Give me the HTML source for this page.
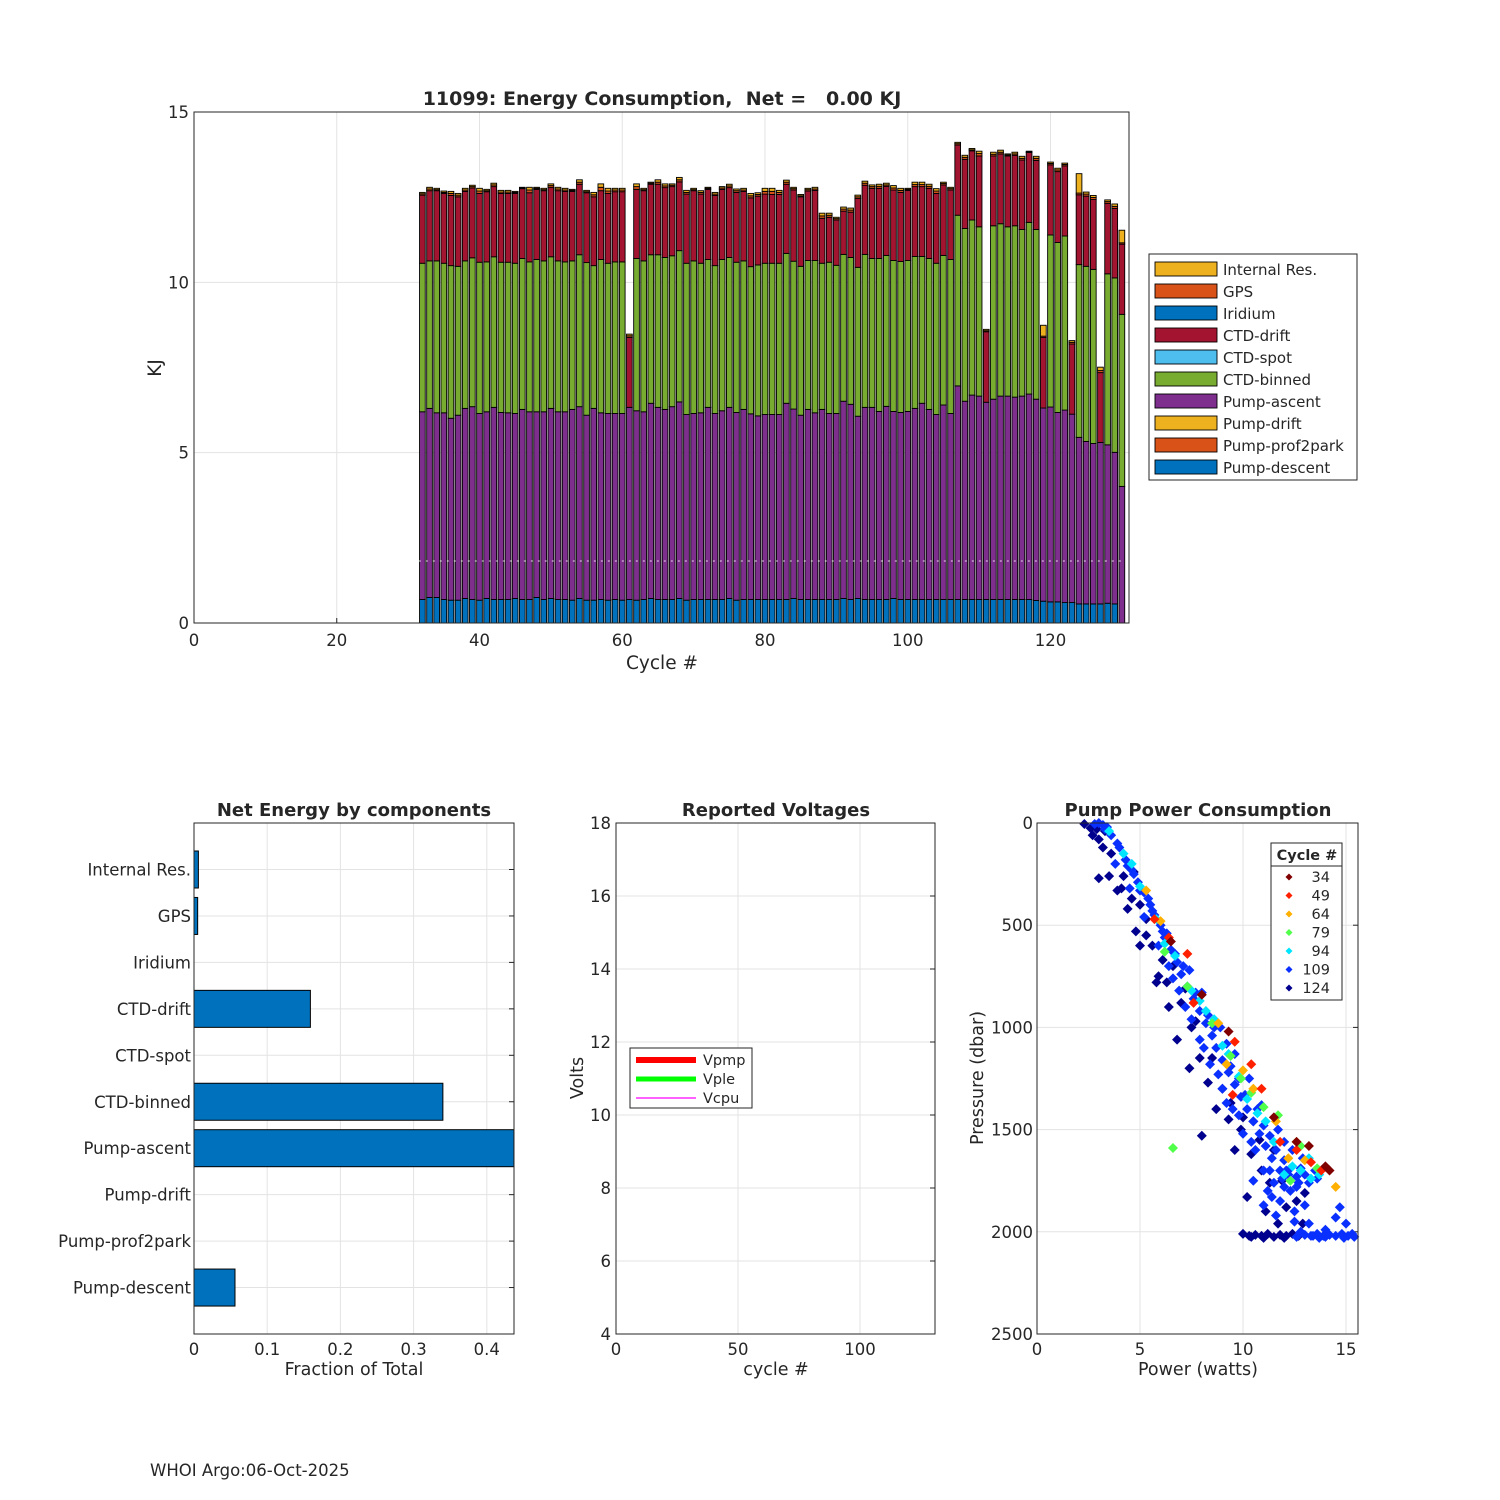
<!DOCTYPE html>
<html><head><meta charset="utf-8"><style>
html,body{margin:0;padding:0;background:#fff;}
svg{display:block;font-family:"DejaVu Sans","Liberation Sans",sans-serif;}
text{fill:#262626;}
</style></head><body>
<svg id="fig" width="1500" height="1500" viewBox="0 0 1500 1500" xmlns="http://www.w3.org/2000/svg">
<rect x="0" y="0" width="1500" height="1500" fill="#fff"/>
<g id="g1"></g>
<g id="g2"></g>
<g id="g3"></g>
<g id="g4"></g>
<text x="662" y="105" text-anchor="middle" font-size="19" font-weight="bold" fill="#000" style="white-space:pre" xml:space="preserve">11099: Energy Consumption,  Net =   0.00 KJ</text>
<text x="662" y="669" text-anchor="middle" font-size="18.5">Cycle #</text>
<text x="161" y="368" text-anchor="middle" font-size="18.5" transform="rotate(-90 161 368)">KJ</text>
<text x="354" y="816" text-anchor="middle" font-size="18" font-weight="bold" fill="#000">Net Energy by components</text>
<text x="354" y="1375" text-anchor="middle" font-size="17.5">Fraction of Total</text>
<text x="776" y="816" text-anchor="middle" font-size="18" font-weight="bold" fill="#000">Reported Voltages</text>
<text x="776" y="1375" text-anchor="middle" font-size="17.5">cycle #</text>
<text x="583" y="1078" text-anchor="middle" font-size="17.5" transform="rotate(-90 583 1078)">Volts</text>
<text x="1198" y="816" text-anchor="middle" font-size="18" font-weight="bold" fill="#000">Pump Power Consumption</text>
<text x="1198" y="1375" text-anchor="middle" font-size="17.5">Power (watts)</text>
<text x="983" y="1078" text-anchor="middle" font-size="17.5" transform="rotate(-90 983 1078)">Pressure (dbar)</text>
<text x="150" y="1476" font-size="16.5" fill="#000">WHOI Argo:06-Oct-2025</text>
</svg>
<script>
// ===== Main stacked bar data =====
const cycles = [];
for (let c = 32; c <= 130; c++) cycles.push(c);
const pumpDescent = [.69,.75,.75,.69,.67,.67,.72,.69,.67,.72,.69,.69,.69,.72,.69,.69,.75,.69,.72,.69,.69,.67,.72,.67,.67,.69,.67,.69,.67,.69,.67,.69,.72,.69,.69,.69,.72,.67,.69,.69,.69,.69,.69,.72,.67,.69,.69,.69,.69,.69,.69,.69,.72,.69,.69,.69,.69,.69,.69,.72,.69,.72,.69,.69,.69,.69,.72,.69,.69,.69,.69,.69,.69,.69,.69,.69,.69,.69,.69,.69,.69,.69,.69,.69,.69,.69,.66,.64,.62,.62,.60,.60,.56,.56,.56,.56,.58,.56];
const pumpAscent = [5.51,5.55,5.42,5.48,5.34,5.43,5.58,5.66,5.48,5.48,5.64,5.49,5.48,5.43,5.58,5.51,5.45,5.51,5.58,5.51,5.51,5.60,5.63,5.43,5.63,5.48,5.48,5.46,5.48,5.64,5.56,5.51,5.73,5.64,5.58,5.66,5.77,5.45,5.46,5.48,5.64,5.46,5.54,5.61,5.51,5.58,5.45,5.39,5.43,5.43,5.43,5.76,5.56,5.41,5.58,5.48,5.58,5.46,5.46,5.79,5.73,5.35,5.64,5.64,5.52,5.67,5.49,5.49,5.52,5.61,5.76,5.58,5.43,5.71,5.46,6.27,5.82,6.00,5.97,5.79,5.88,5.97,5.97,5.94,5.97,6.03,5.91,5.67,5.72,5.56,5.65,5.53,4.89,4.77,4.71,4.74,4.65,4.45,4.01];
const ctdBinned = [4.36,4.33,4.46,4.39,4.48,4.37,4.33,4.37,4.44,4.40,4.42,4.41,4.42,4.41,4.43,4.40,4.47,4.43,4.45,4.43,4.40,4.36,4.46,4.48,4.19,4.50,4.41,4.45,4.45,0,4.47,4.43,4.36,4.48,4.46,4.43,4.44,4.44,4.48,4.39,4.34,4.34,4.44,4.40,4.41,4.36,4.32,4.43,4.44,4.44,4.44,4.40,4.34,4.37,4.37,4.47,4.29,4.44,4.35,4.31,4.31,4.37,4.49,4.37,4.49,4.43,4.43,4.43,4.43,4.46,4.31,4.43,4.44,4.39,4.52,5.01,5.07,5.14,4.97,0,5.09,5.06,4.97,5.03,4.89,5.04,4.98,0,5.05,4.99,5.11,0,5.07,5.14,5.11,0,5.02,5.12,5.05];
const ctdDrift = [2.00,2.06,2.06,2.05,2.06,2.04,2.04,2.05,2.02,2.06,2.06,2.02,2.02,2.05,2.05,2.03,2.06,2.06,2.04,2.06,2.07,2.04,2.07,2.05,2.02,2.02,2.05,2.06,2.06,2.05,2.03,2.06,2.07,2.07,2.05,2.03,2.02,2.03,2.06,2.03,2.06,2.06,2.06,2.05,2.05,2.04,2.02,2.02,2.03,2.02,2.02,2.03,2.09,2.04,2.04,2.06,1.32,1.32,1.33,1.27,1.33,2.02,2.03,2.06,2.06,2.03,2.07,2.03,2.06,2.05,2.05,2.06,2.05,2.07,2.04,2.06,2.03,2.03,2.08,2.07,2.05,2.05,2.08,2.07,2.04,2.05,2.03,2.07,2.06,2.08,2.06,2.06,2.05,2.06,2.05,2.05,2.07,2.04,2.06];
const gpsEnergy = [.04,.05,.03,.03,.06,.05,.04,.04,.07,.03,.05,.04,.04,.03,.02,.08,.03,.03,.05,.05,.04,.03,.06,.03,.06,.10,.07,.05,.05,.05,.08,.03,.03,.06,.05,.04,.06,.05,.03,.05,.03,.04,.04,.05,.05,.04,.06,.05,.08,.09,.06,.06,.04,.03,.04,.04,.07,.06,.04,.06,.06,.05,.06,.05,.06,.04,.06,.06,.03,.06,.06,.06,.07,.04,.04,.04,.06,.03,.07,.03,.05,.05,.03,.04,.05,.02,.06,.04,.04,.05,.04,.05,.05,.06,.06,.06,.05,.06,.04];
const internalRes = [.04,.05,.04,.04,.06,.05,.05,.04,.08,.04,.05,.05,.05,.03,.02,.08,.03,.04,.05,.05,.05,.03,.07,.04,.07,.10,.08,.05,.05,.05,.08,.04,.03,.07,.06,.04,.07,.06,.04,.05,.03,.05,.04,.05,.05,.05,.07,.05,.09,.09,.06,.06,.04,.04,.04,.05,.08,.06,.04,.06,.06,.05,.06,.05,.06,.05,.07,.06,.03,.07,.07,.06,.07,.04,.04,.04,.06,.04,.07,.04,.06,.06,.03,.05,.06,.02,.06,.32,.04,.05,.04,.05,.57,.06,.06,.10,.05,.07,.37];
const blankLevel = [1.82];

// ===== Net energy by components =====
const compNames = ['Pump-descent','Pump-prof2park','Pump-drift','Pump-ascent','CTD-binned','CTD-spot','CTD-drift','Iridium','GPS','Internal Res.'];
const compFractions = [0.056,0,0,0.45,0.34,0,0.159,0,0.005,0.006];

// ===== Pump power scatter (power W, pressure dbar) =====
const pts124 = [[2.3,5],[2.6,25],[2.7,60],[3.2,120],[3.6,150],[3.5,260],[3.0,270],[4.2,260],[4.7,240],[5.0,400],[4.4,420],[4.8,530],[5.3,550],[5.6,600],[5.0,600],[6.1,670],[6.6,700],[5.8,780],[7.2,810],[6.4,900],[7.5,1000],[6.8,1060],[7.9,1150],[7.4,1200],[8.3,1270],[9.0,1300],[8.7,1400],[10.0,1440],[9.9,1500],[10.5,1460],[8.0,1530],[10.4,1620],[10.9,1700],[11.5,1600],[10.2,1830],[11.3,1760],[11.9,1750],[12.1,1880],[12.6,1850],[13.0,1810],[3.0,80],[3.9,330],[5.9,750],[7.7,970],[9.4,1370],[10.0,2010],[10.3,2020],[10.6,2015],[10.9,2020],[11.2,2010],[11.5,2025],[11.8,2015],[12.1,2020],[12.4,2010],[12.7,2020],[2.9,30],[3.3,40],[4.1,320],[4.6,370],[5.3,470],[6.3,780],[7.0,880],[8.5,1150],[9.3,1450],[9.6,1600],[10.8,1550],[11.1,1900],[11.7,1960],[12.9,1960],[10.4,2025],[11.0,2030],[12.0,2030]];
const pts109 = [[3.0,0],[3.2,10],[3.4,20],[2.8,5],[3.6,60],[4.0,120],[4.3,180],[4.6,230],[4.9,290],[5.2,340],[5.5,400],[5.7,450],[6.0,500],[6.2,560],[6.5,620],[6.8,680],[7.0,740],[7.3,800],[7.6,860],[7.9,920],[8.2,980],[8.5,1040],[8.7,1100],[9.0,1160],[9.3,1220],[9.6,1280],[9.9,1340],[10.2,1400],[10.5,1460],[10.8,1520],[11.1,1580],[11.4,1640],[11.8,1700],[12.2,1720],[12.6,1730],[13.0,1720],[12.0,1650],[11.0,1700],[10.6,1600],[10.0,1520],[9.5,1400],[9.0,1300],[8.4,1180],[7.9,1060],[7.2,900],[6.6,760],[5.9,600],[5.2,460],[4.5,320],[3.8,200],[11.5,1760],[12.8,1690],[13.5,1700],[12.4,1600],[11.7,1500],[10.9,1380],[10.3,1250],[9.6,1130],[8.9,1000],[8.0,830],[7.4,720],[6.3,540],[5.4,370],[4.7,250],[12.0,1780],[11.2,1800],[11.8,1850],[12.5,1900],[13.0,1870],[14.5,1930],[10.5,1750],[11.0,1870],[13.0,2015],[13.3,2020],[13.6,2010],[13.9,2020],[14.2,2015],[14.5,2020],[14.8,2010],[15.1,2020],[15.4,2025],[12.5,1950],[13.2,1960],[14.0,1990],[12.8,2000],[11.6,1920],[14.7,1880],[15.0,1960],[12.3,1800],[11.4,1830],
[3.3,30],[3.9,100],[4.4,210],[5.0,330],[5.6,430],[6.1,530],[6.7,640],[7.1,700],[7.7,830],[8.3,940],[8.6,1000],[9.2,1080],[9.4,1190],[9.8,1250],[10.1,1330],[10.7,1400],[11.0,1480],[11.3,1530],[11.6,1600],[12.0,1560],[12.3,1690],[12.7,1760],[13.2,1760],[13.6,1740],[11.9,1740],[12.9,1640],[10.4,1560],[9.8,1430],[9.2,1370],[8.8,1230],[8.1,1100],[7.5,960],[6.9,820],[6.4,700],[11.3,1700],[12.1,1700],[12.6,1780],[13.4,2020],[14.0,2025],[14.9,2030],[15.3,2010],[12.6,2025],[13.7,2030]];
const pts94 = [[3.5,40],[4.2,150],[5.0,310],[5.8,470],[6.7,650],[7.5,820],[8.2,920],[9.0,1090],[9.8,1240],[10.7,1420],[11.5,1560],[12.4,1680],[13.7,1720],[13.2,1640],[12.0,1720],[8.6,960],[4.6,200],[6.2,590],[7.9,870],[9.3,1130],[10.2,1350],[11.1,1460],[12.8,1700],[13.3,1740]];
const pts79 = [[6.2,630],[8.5,980],[9.4,1140],[10.4,1320],[11.7,1430],[12.8,1580],[6.6,1590],[12.3,1750],[9.9,1250],[7.3,800],[11.0,1390],[13.6,1690]];
const pts64 = [[6.0,480],[8.8,980],[10.5,1300],[11.6,1460],[13.0,1650],[12.2,1640],[9.2,1180],[14.5,1780],[5.3,330],[10.0,1210],[12.6,1560]];
const pts49 = [[5.7,470],[7.6,880],[9.6,1070],[10.9,1300],[12.6,1600],[13.8,1700],[7.3,640],[9.5,1330],[11.8,1560],[6.4,560],[10.4,1180],[13.3,1660]];
const pts34 = [[6.5,580],[9.3,1020],[11.5,1440],[13.2,1580],[14.2,1700],[8.0,840],[14.0,1680],[12.6,1560]];
const legendCycles = ['34','49','64','79','94','109','124'];

const NS = 'http://www.w3.org/2000/svg';
function mk(tag, attrs, parent) {
  const e = document.createElementNS(NS, tag);
  for (const k in attrs) e.setAttribute(k, attrs[k]);
  parent.appendChild(e);
  return e;
}
function axesFrame(g, x0, y0, x1, y1, name) {
  const r = mk('rect', {x: x0, y: y0, width: x1 - x0, height: y1 - y0, fill: 'none', stroke: '#262626', 'stroke-width': 1}, g);
  
  
}
const TF = 16.5;

// ===== Chart 1 =====
(function () {
  const g = document.getElementById('g1');
  const X0 = 194, X1 = 1129, Y0 = 112, Y1 = 623;
  const xs = v => X0 + (v / 131) * (X1 - X0);
  const ys = v => Y1 - (v / 15) * (Y1 - Y0);
  const xt = [0, 20, 40, 60, 80, 100, 120], yt = [0, 5, 10, 15];
  xt.forEach(t => {
    const l = mk('line', {x1: xs(t), x2: xs(t), y1: Y0, y2: Y1, stroke: '#e3e3e3'}, g);
    
    
    const tk = mk('line', {x1: xs(t), x2: xs(t), y1: Y1, y2: Y1 - 5, stroke: '#262626'}, g);
    
    
    const tx = mk('text', {x: xs(t), y: Y1 + 23, 'text-anchor': 'middle', 'font-size': TF}, g);
    tx.textContent = t;
    
    
  });
  yt.forEach(t => {
    const l = mk('line', {x1: X0, x2: X1, y1: ys(t), y2: ys(t), stroke: '#e3e3e3'}, g);
    
    
    const tx = mk('text', {x: X0 - 5, y: ys(t) + 6, 'text-anchor': 'end', 'font-size': TF}, g);
    tx.textContent = t;
    
    
  });
  const series = [pumpDescent, pumpAscent, ctdBinned, ctdDrift, gpsEnergy, internalRes];
  const cols = ['#0072BD', '#7E2F8E', '#77AC30', '#A2142F', '#D95319', '#EDB120'];
  const names = ['bar-pump-descent', 'bar-pump-ascent', 'bar-ctd-binned', 'bar-ctd-drift', 'bar-gps', 'bar-internal-res'];
  const bw = 0.8;
  cycles.forEach((c, i) => {
    let base = 0;
    series.forEach((s, k) => {
      const v = s[i];
      if (!v) return;
      const r = mk('rect', {x: xs(c - bw / 2), y: ys(base + v), width: xs(bw) - xs(0), height: ys(base) - ys(base + v), fill: cols[k], stroke: '#000', 'stroke-width': 0.9}, g);
      
      
      base += v;
    });
  });
  const dl = mk('line', {x1: xs(cycles[0] - 0.5), x2: xs(cycles[cycles.length - 1] + 0.5), y1: ys(blankLevel[0]), y2: ys(blankLevel[0]), stroke: '#fff', 'stroke-width': 1, 'stroke-dasharray': '2 5', opacity: 0.8}, g);
  
  
  axesFrame(g, X0, Y0, X1, Y1, 'energy-axes');
  const lx = 1149, ly = 254;
  const lr = mk('rect', {x: lx, y: ly, width: 208, height: 226, fill: '#fff', stroke: '#262626'}, g);
  
  
  const lnames = ['Internal Res.', 'GPS', 'Iridium', 'CTD-drift', 'CTD-spot', 'CTD-binned', 'Pump-ascent', 'Pump-drift', 'Pump-prof2park', 'Pump-descent'];
  const lcols = ['#EDB120', '#D95319', '#0072BD', '#A2142F', '#4DBEEE', '#77AC30', '#7E2F8E', '#EDB120', '#D95319', '#0072BD'];
  lnames.forEach((n, i) => {
    const y = ly + 15 + i * 22;
    const s = mk('rect', {x: lx + 6, y: y - 7, width: 62, height: 14, fill: lcols[i], stroke: '#000', 'stroke-width': 0.9}, g);
    
    
    const t = mk('text', {x: lx + 74, y: y + 6, 'font-size': 15, fill: '#000'}, g);
    t.textContent = n;
    
    
  });
})();

// ===== Chart 2 =====
(function () {
  const g = document.getElementById('g2');
  const X0 = 194, X1 = 514, Y0 = 823, Y1 = 1334;
  const xs = v => X0 + v * 732;
  const ys = i => Y1 - (i + 1) * 46.45;
  [0, 0.1, 0.2, 0.3, 0.4].forEach(t => {
    const l = mk('line', {x1: xs(t), x2: xs(t), y1: Y0, y2: Y1, stroke: '#e3e3e3'}, g);
    
    
    const tx = mk('text', {x: xs(t), y: Y1 + 21, 'text-anchor': 'middle', 'font-size': TF}, g);
    tx.textContent = t === 0 ? '0' : String(t);
    
    
  });
  compNames.forEach((n, i) => {
    const y = ys(i);
    const l = mk('line', {x1: X0, x2: X1, y1: y, y2: y, stroke: '#e3e3e3'}, g);
    
    
    const tk = mk('line', {x1: X1 - 5, x2: X1, y1: y, y2: y, stroke: '#262626'}, g);
    
    
    const tx = mk('text', {x: X0 - 3, y: y + 6, 'text-anchor': 'end', 'font-size': TF}, g);
    tx.textContent = n;
    
    
    const v = Math.min(compFractions[i], 0.437);
    if (v > 0) {
      const r = mk('rect', {x: X0, y: y - 18.5, width: xs(v) - X0, height: 37, fill: '#0072BD', stroke: '#000', 'stroke-width': 1}, g);
      
      
    }
  });
  axesFrame(g, X0, Y0, X1, Y1, 'net-energy-axes');
})();

// ===== Chart 3 =====
(function () {
  const g = document.getElementById('g3');
  const X0 = 616, X1 = 935, Y0 = 823, Y1 = 1334;
  const xs = v => X0 + v * 2.44;
  const ys = v => Y1 - (v - 4) / 14 * (Y1 - Y0);
  [0, 50, 100].forEach(t => {
    const l = mk('line', {x1: xs(t), x2: xs(t), y1: Y0, y2: Y1, stroke: '#e3e3e3'}, g);
    
    
    const tx = mk('text', {x: xs(t), y: Y1 + 21, 'text-anchor': 'middle', 'font-size': TF}, g);
    tx.textContent = t;
    
    
  });
  [4, 6, 8, 10, 12, 14, 16, 18].forEach(t => {
    const l = mk('line', {x1: X0, x2: X1, y1: ys(t), y2: ys(t), stroke: '#e3e3e3'}, g);
    
    
    const tk = mk('line', {x1: X1 - 5, x2: X1, y1: ys(t), y2: ys(t), stroke: '#262626'}, g);
    
    
    const tx = mk('text', {x: X0 - 5, y: ys(t) + 6, 'text-anchor': 'end', 'font-size': TF}, g);
    tx.textContent = t;
    
    
  });
  axesFrame(g, X0, Y0, X1, Y1, 'voltage-axes');
  const lb = mk('rect', {x: 630, y: 1048, width: 122, height: 60, fill: '#fff', stroke: '#262626'}, g);
  
  
  const ln = ['Vpmp', 'Vple', 'Vcpu'], lc = ['#ff0000', '#00ff00', '#ff00ff'], lw = [6, 5, 1.3];
  ln.forEach((n, i) => {
    const y = 1060 + i * 19;
    const l = mk('line', {x1: 636, x2: 696, y1: y, y2: y, stroke: lc[i], 'stroke-width': lw[i]}, g);
    
    
    const t = mk('text', {x: 703, y: y + 5, 'font-size': 14.5, fill: '#000'}, g);
    t.textContent = n;
    
    
  });
})();

// ===== Chart 4 =====
(function () {
  const g = document.getElementById('g4');
  const X0 = 1037, X1 = 1358, Y0 = 823, Y1 = 1334;
  const xs = v => X0 + v * 20.6;
  const ys = v => Y0 + v * 0.2044;
  [0, 5, 10, 15].forEach(t => {
    const l = mk('line', {x1: xs(t), x2: xs(t), y1: Y0, y2: Y1, stroke: '#e3e3e3'}, g);
    
    
    const tx = mk('text', {x: xs(t), y: Y1 + 21, 'text-anchor': 'middle', 'font-size': TF}, g);
    tx.textContent = t;
    
    
  });
  [0, 500, 1000, 1500, 2000, 2500].forEach(t => {
    const l = mk('line', {x1: X0, x2: X1, y1: ys(t), y2: ys(t), stroke: '#e3e3e3'}, g);
    
    
    const tk = mk('line', {x1: X1 - 5, x2: X1, y1: ys(t), y2: ys(t), stroke: '#262626'}, g);
    
    
    const tx = mk('text', {x: X0 - 4, y: ys(t) + 6, 'text-anchor': 'end', 'font-size': TF}, g);
    tx.textContent = t;
    
    
  });
  const groups = [pts124, pts109, pts94, pts79, pts64, pts49, pts34];
  const gcols = ['#00008f', '#0a30ff', '#00e5ff', '#50ff4a', '#ffb000', '#ff2000', '#800000'];
  groups.forEach((pts, k) => {
    pts.forEach(p => {
      const x = xs(p[0]), y = ys(p[1]);
      const d = mk('path', {d: `M${x},${y - 5}L${x + 5},${y}L${x},${y + 5}L${x - 5},${y}Z`, fill: gcols[k]}, g);
      
      
    });
  });
  axesFrame(g, X0, Y0, X1, Y1, 'pump-power-axes');
  const lb = mk('rect', {x: 1271, y: 843, width: 71, height: 157, fill: '#fff', stroke: '#262626'}, g);
  
  
  const sep = mk('line', {x1: 1271, x2: 1342, y1: 866, y2: 866, stroke: '#262626'}, g);
  
  
  const tt = mk('text', {x: 1307, y: 860, 'text-anchor': 'middle', 'font-size': 14.5, 'font-weight': 'bold', fill: '#000'}, g);
  tt.textContent = 'Cycle #';
  
  
  const lcol = ['#800000', '#ff2000', '#ffb000', '#50ff4a', '#00e5ff', '#0a30ff', '#00008f'];
  legendCycles.forEach((c, i) => {
    const y = 877 + i * 18.5;
    const d = mk('path', {d: `M1289,${y - 3.5}L1292.5,${y}L1289,${y + 3.5}L1285.5,${y}Z`, fill: lcol[i]}, g);
    
    
    const t = mk('text', {x: 1330, y: y + 5, 'text-anchor': 'end', 'font-size': 14.5, fill: '#000'}, g);
    t.textContent = c;
    
    
  });
})();
</script>
</body></html>
